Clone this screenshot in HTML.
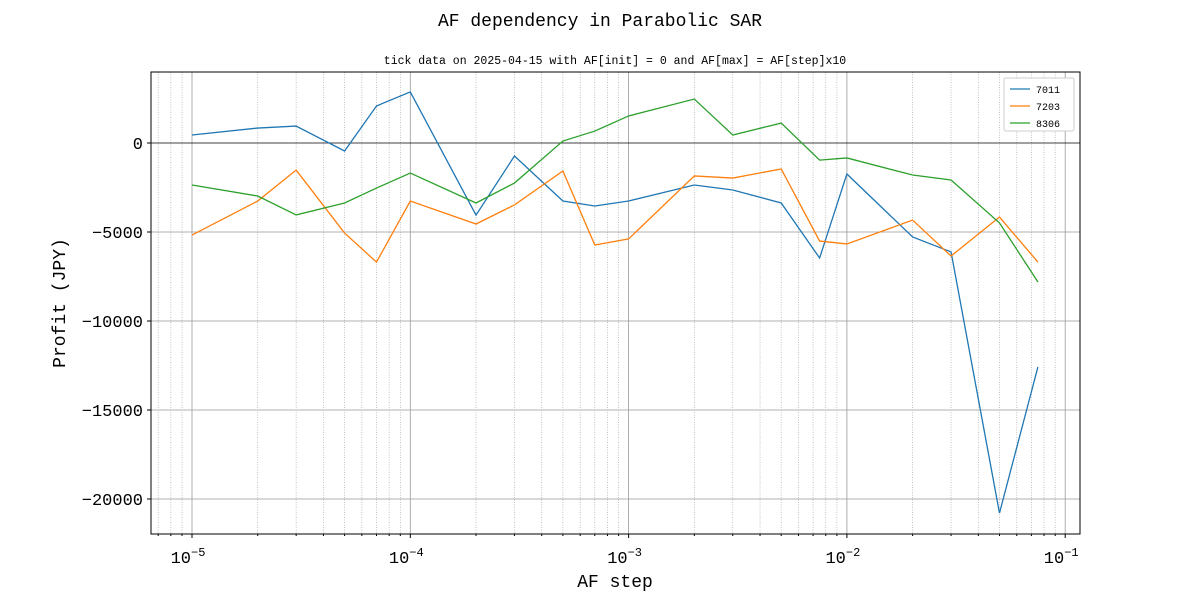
<!DOCTYPE html>
<html><head><meta charset="utf-8"><style>
body{margin:0;background:#fff}
svg{display:block;font-family:"Liberation Mono","DejaVu Sans Mono",monospace}
</style></head><body>
<svg id="chart" width="1200" height="600">
<text x="600" y="26" text-anchor="middle" font-size="18">AF dependency in Parabolic SAR</text>
<text x="615" y="64" text-anchor="middle" font-size="11.5">tick data on 2025-04-15 with AF[init] = 0 and AF[max] = AF[step]x10</text>
<g id="grid"></g>
<g id="series"></g>
<rect x="151" y="72" width="929" height="462" fill="none" stroke="#000" stroke-width="1"/>
<g id="ticks"></g>
<text x="615" y="587" text-anchor="middle" font-size="18">AF step</text>
<text transform="translate(65,303) rotate(-90)" text-anchor="middle" font-size="18">Profit (JPY)</text>
<g>
<rect x="1004" y="78" width="70" height="53" fill="#fff" stroke="#ccc" rx="2"/>
<g id="legend"></g>
</g>
</svg>
<script>
const xs=[1e-5,2e-5,3e-5,5e-5,7e-5,1e-4,2e-4,3e-4,5e-4,7e-4,1e-3,2e-3,3e-3,5e-3,7.5e-3,1e-2,2e-2,3e-2,5e-2,7.5e-2];
const seriesNames=["7011","7203","8306"];
const s7011=[450,840,950,-450,2080,2870,-4050,-730,-3260,-3540,-3260,-2360,-2640,-3370,-6460,-1740,-5280,-6120,-20790,-12580];
const s7203=[-5170,-3260,-1520,-5060,-6690,-3260,-4550,-3480,-1570,-5730,-5390,-1850,-1970,-1460,-5510,-5670,-4330,-6350,-4160,-6690];
const s8306=[-2360,-2980,-4040,-3370,-2530,-1690,-3370,-2250,110,670,1520,2470,450,1120,-960,-840,-1800,-2080,-4490,-7810];
const yTicks=[0,-5000,-10000,-15000,-20000];
const xExps=[-5,-4,-3,-2,-1];
const colors=["#1f77b4","#ff7f0e","#2ca02c"];
const NS="http://www.w3.org/2000/svg";
const X=v=>192+(Math.log10(v)+5)*218.3;
const Y=v=>143-v*89/5000;
const L=151,R=1080,T=72,B=534;
function mk(tag,attrs,parent){const e=document.createElementNS(NS,tag);for(const k in attrs)e.setAttribute(k,attrs[k]);parent.appendChild(e);return e;}
const grid=document.getElementById('grid'),ticks=document.getElementById('ticks'),ser=document.getElementById('series'),leg=document.getElementById('legend');
for(let e=-6;e<=-1;e++)for(let m=2;m<=9;m++){const v=m*Math.pow(10,e);const x=X(v);if(x<L||x>R)continue;
 const g=mk('line',{x1:x,x2:x,y1:T,y2:B,stroke:'#aaa','stroke-width':0.7,'stroke-dasharray':'1,1.5'},grid);
 
 mk('line',{x1:x,x2:x,y1:B,y2:B+2,stroke:'#000'},ticks);}
xExps.forEach(e=>{const x=X(Math.pow(10,e));
 const g=mk('line',{x1:x,x2:x,y1:T,y2:B,stroke:'#999','stroke-width':0.8},grid);
 
 mk('line',{x1:x,x2:x,y1:B,y2:B+4,stroke:'#000'},ticks);
 const t=mk('text',{x:x-4,y:563,'text-anchor':'middle','font-size':17},ticks);
 
 t.textContent='10';const s=mk('tspan',{dy:-7,'font-size':12},t);s.textContent=String(e).replace('-','\u2212');});
yTicks.forEach(v=>{const y=Y(v);
 const g=mk('line',{x1:L,x2:R,y1:y,y2:y,stroke:v===0?'#000':'#999','stroke-width':0.8},grid);
 
 mk('line',{x1:L-4,x2:L,y1:y,y2:y,stroke:'#000'},ticks);
 const t=mk('text',{x:L-8,y:y+6,'text-anchor':'end','font-size':17},ticks);
 
 t.textContent=String(v).replace('-','\u2212');});
[s7011,s7203,s8306].forEach((d,i)=>{
 const p=mk('polyline',{points:d.map((v,j)=>X(xs[j])+','+Y(v)).join(' '),fill:'none',stroke:colors[i],'stroke-width':1.3},ser);
 
 const y=89+i*17;
 const l=mk('line',{x1:1010,x2:1030,y1:y,y2:y,stroke:colors[i],'stroke-width':1.3},leg);
 
 const t=mk('text',{x:1036,y:y+4,'font-size':10},leg);
 
 t.textContent=seriesNames[i];});
</script>
</body></html>
